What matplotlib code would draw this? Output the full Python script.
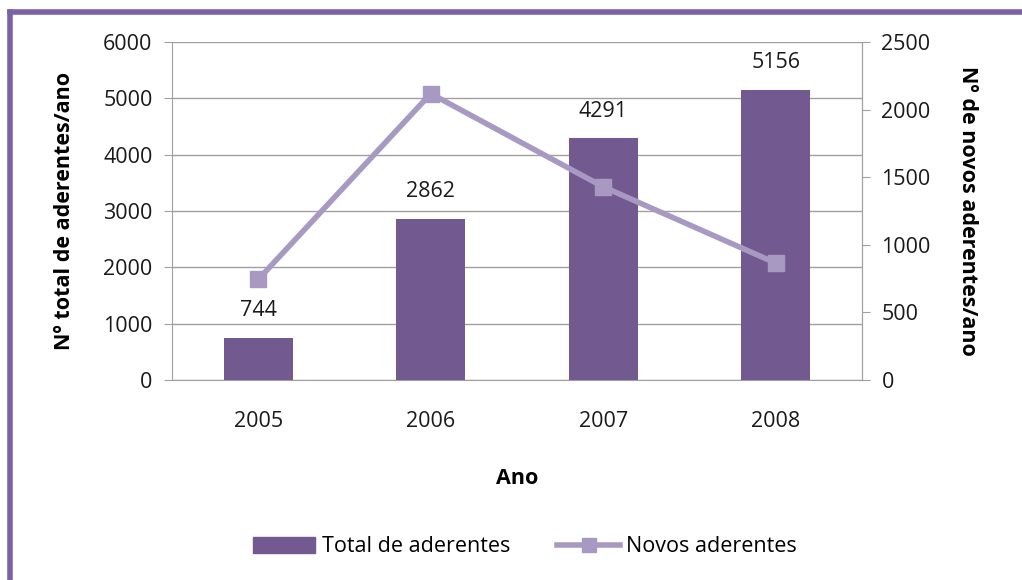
import matplotlib
matplotlib.use("Agg")
import matplotlib.pyplot as plt
from matplotlib.lines import Line2D
import numpy as np

years = ["2005", "2006", "2007", "2008"]
total = [744, 2862, 4291, 5156]
novos = [744, 2118, 1429, 865]

bar_color = "#725A91"
line_color = "#A899C2"
grid_color = "#A0A0A0"
text_color = "#1a1a1a"

plt.rcParams['font.family'] = ['Open Sans', 'DejaVu Sans']
FS = 15.5

fig = plt.figure(figsize=(10.22, 5.80), dpi=100)
ax = fig.add_axes([172/1022, 1-380/580, (862-172)/1022, (380-42)/580])
x = np.arange(len(years))
ax.bar(x, total, width=0.4, color=bar_color, zorder=3, label="Total de aderentes")
for xi, v in zip(x, total):
    ax.annotate(str(v), (xi, v), xytext=(0, 12), textcoords="offset points",
                ha="center", va="bottom", fontsize=FS, color=text_color)
ax.set_ylim(0, 6000)
ax.set_yticks(range(0, 6001, 1000))
ax.set_xlim(-0.5, 3.5)
ax.set_xticks(x)
ax.set_xticklabels(years)
ax.grid(axis="y", color=grid_color, linewidth=1, zorder=0)
ax.spines["top"].set_visible(False)
for s in ["left", "right", "bottom"]:
    ax.spines[s].set_color(grid_color)
ax.tick_params(axis="y", colors=grid_color, labelcolor=text_color, labelsize=FS, length=6, pad=8)
ax.tick_params(axis="x", length=0, labelsize=FS, labelcolor=text_color, pad=22)
ax.set_ylabel("Nº total de aderentes/ano", fontsize=FS, fontweight="bold", labelpad=20)
ax.set_xlabel("Ano", fontsize=FS, fontweight="bold", labelpad=26)

ax2 = ax.twinx()
ax2.plot(x, novos, color=line_color, linewidth=4, marker="s", markersize=11, zorder=4,
         label="Novos aderentes")
ax2.set_ylim(0, 2500)
ax2.set_yticks(range(0, 2501, 500))
for s in ["top", "left", "bottom"]:
    ax2.spines[s].set_visible(False)
ax2.spines["right"].set_color(grid_color)
ax2.tick_params(axis="y", colors=grid_color, labelcolor=text_color, labelsize=FS, length=6, pad=8)
ax2.set_ylabel("Nº de novos aderentes/ano", fontsize=FS, fontweight="bold", rotation=270, labelpad=34)

handles = [plt.Rectangle((0, 0), 1, 1, color=bar_color),
           Line2D([0], [0], color=line_color, linewidth=4, marker="s", markersize=10)]
fig.legend(handles, ["Total de aderentes", "Novos aderentes"], loc="center",
           bbox_to_anchor=(525/1022, 1-547/580), ncol=2, frameon=False, fontsize=FS,
           handlelength=2.9, columnspacing=2.2, handletextpad=0.3)

# frame lines (top and left)
fig.add_artist(Line2D([10/1022, 1], [1-12/580, 1-12/580], color="#7B62A8", linewidth=4,
                      transform=fig.transFigure))
fig.add_artist(Line2D([10/1022, 10/1022], [0, 1-12/580], color="#7B62A8", linewidth=4,
                      transform=fig.transFigure))

fig.savefig("out.png", dpi=100)
